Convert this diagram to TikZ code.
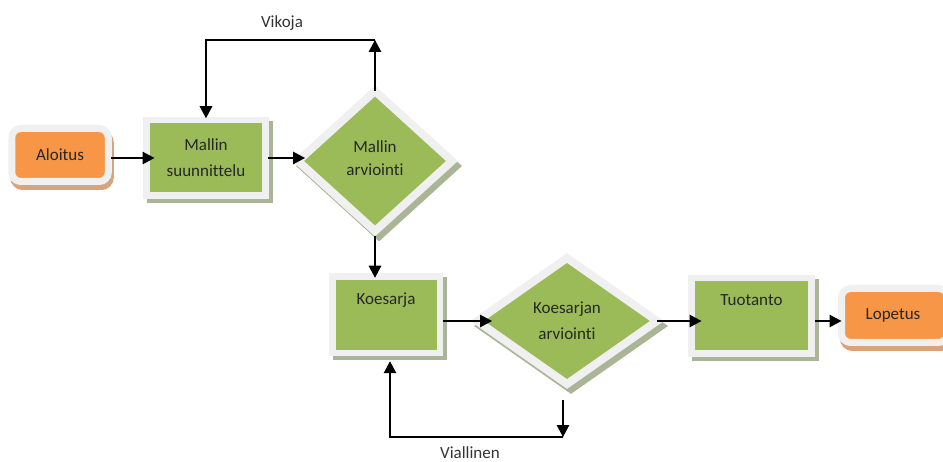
\documentclass[tikz,border=0pt]{standalone}
\usepackage{fontspec}
\setmainfont{Carlito}[Ligatures=NoCommon]
\usetikzlibrary{shapes.geometric,arrows.meta,calc}
\definecolor{boxgreen}{HTML}{9BBB59}
\definecolor{boxorange}{HTML}{F79646}
\definecolor{framegray}{HTML}{F0F0F0}
\definecolor{greenshade}{HTML}{A9B596}
\definecolor{orangeshade}{HTML}{D6A47E}
\definecolor{ink}{HTML}{262626}
\definecolor{labelink}{HTML}{333333}

\begin{document}
\begin{tikzpicture}[x=1pt,y=-1pt,
  font=\fontsize{17}{26}\selectfont, text=ink,
  every node/.style={outer sep=0pt, inner sep=0pt},
  procbox/.style={rectangle, fill=boxgreen, draw=framegray, line width=6.5pt, align=center,
    preaction={draw=greenshade, fill=greenshade, line width=6.5pt,
      transform canvas={shift={(4pt,-4pt)}}}},
  decision/.style={diamond, fill=boxgreen, draw=framegray, line width=8pt, align=center,
    preaction={draw=greenshade, fill=greenshade, line width=8pt,
      transform canvas={shift={(4pt,-5pt)}}}},
  startbox/.style={rectangle, rounded corners=9pt, fill=boxorange, draw=framegray, line width=7pt,
    preaction={draw=orangeshade, fill=orangeshade, line width=7pt,
      transform canvas={shift={(2pt,-5pt)}}}},
  toptext/.style={text height=12pt, text depth=32pt},
  arr/.style={line width=1.4pt, draw=black, -{Triangle[length=12pt,width=12.5pt]}},
  flowlabel/.style={text=labelink}]

\useasboundingbox (0,0) rectangle (943,462);

% process nodes
\node[startbox, minimum width=96.5pt, minimum height=53pt] (aloitus) at (60,155) {Aloitus};
\node[procbox, minimum width=119pt, minimum height=75.5pt] (ms) at (206,158) {Mallin\\suunnittelu};
\node[decision, minimum width=154pt, minimum height=140pt] (malarv) at (375,161) {\raisebox{5pt}{\shortstack[c]{Mallin\\[8pt]arviointi}}};
\node[procbox, toptext, minimum width=107.5pt, minimum height=76.5pt] (koe) at (386,315) {Koesarja};
\node[decision, minimum width=180pt, minimum height=126pt] (kaarv) at (567,321) {Koesarjan\\arviointi};
\node[procbox, toptext, minimum width=120pt, minimum height=75.5pt] (tuot) at (751.5,316) {Tuotanto};
\node[startbox, minimum width=106pt, minimum height=54pt] (lop) at (894.5,315.5) {\hspace*{-3pt}Lopetus};

% loop labels
\node[flowlabel] (vikoja) at (282,23) {Vikoja};
\node[flowlabel] (viallinen) at (470,453) {Viallinen};

% helper coordinates
\coordinate (topbar) at (0,40);
\coordinate (botbar) at (0,437);
\coordinate (a1) at ($(aloitus.east)+(3,0)$);
\coordinate (k1) at ($(koe.east)+(3,0)$);
\coordinate (t1) at ($(tuot.east)+(3.5,0)$);
\coordinate (vdrop) at ($(kaarv.south)+(-4,16)$);
\coordinate (vup) at ($(koe.south)+(4,8)$);

% main flow
\draw[arr] (a1 |- ms.west) -- ($(ms.west)+(8,0)$);
\draw[arr] ($(ms.east)+(2,0)$) -- ($(ms.east -| malarv.west)+(7,0)$);
\draw[arr] ($(malarv.south)+(0,5)$) -- ($(malarv.south |- koe.north)+(0,1)$);
\draw[arr] (k1 |- kaarv.west) -- ($(kaarv.west)+(15,0)$);
\draw[arr] (kaarv.east) -- ($(kaarv.east -| tuot.west)+(10,0)$);
\draw[arr] (t1 |- kaarv.east) -- (kaarv.east -| lop.west);

% Vikoja loop
\draw[arr] (malarv.north) -- (malarv.north |- topbar);
\draw[arr] (malarv.north |- topbar) -- (ms.north |- topbar) -- ($(ms.north)+(0,-2)$);

% Viallinen loop
\draw[arr] (vdrop) -- (vdrop |- botbar);
\draw[arr] (vdrop |- botbar) -- (vup |- botbar) -- (vup);
\end{tikzpicture}
\end{document}
